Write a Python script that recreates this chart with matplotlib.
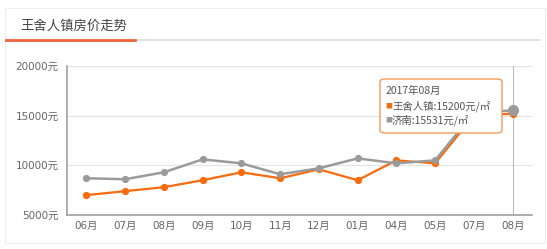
import matplotlib
matplotlib.use('Agg')
import matplotlib.pyplot as plt
from matplotlib.patches import FancyBboxPatch, Rectangle
from matplotlib.lines import Line2D

plt.rcParams['font.family'] = ['Noto Sans CJK SC', 'DejaVu Sans']

# === DATA ===
months = ['06月', '07月', '08月', '09月', '10月', '11月', '12月',
          '01月', '04月', '05月', '07月', '08月']
town = [7000, 7400, 7800, 8500, 9300, 8700, 9600, 8500, 10500, 10200, 15000, 15200]
city = [8700, 8600, 9300, 10600, 10200, 9100, 9700, 10700, 10200, 10500, 15300, 15531]
yticks = [5000, 10000, 15000, 20000]
title = '王舍人镇房价走势'
tip_date = '2017年08月'
hover = 11

c = {'town': '#f76b0c', 'city': '#9b9b9b', 'txt': '#666666',
     'grid': '#e3e3e3', 'axis': '#a0a0a0'}
tick_font = ['DejaVu Sans', 'Noto Sans CJK SC']

fig = plt.figure(figsize=(5.47, 2.49), dpi=100)
fig.patch.set_facecolor('white')

# card frame + header
fig.patches.append(Rectangle((5/547, 6/249), 540/547, 235/249, transform=fig.transFigure,
                             fill=False, edgecolor='#eeeeee', linewidth=0.8))
fig.text(20/547, 1 - 26/249, title, fontsize=9.6, color='#444444', va='center', ha='left')
fig.add_artist(Line2D([135/547, 540/547], [1 - 40.5/249] * 2, color='#dcdcdc', linewidth=1.2))
fig.add_artist(Line2D([6/547, 135/547], [1 - 40.5/249] * 2, color='#f0643c', linewidth=2.0))

ax = fig.add_axes([67/547, 34/249, 465/547, 149/249])
x = list(range(len(months)))

ax.plot(x, town, color=c['town'], linewidth=1.6, marker='o', markersize=4.2, zorder=3)
ax.plot(x, city, color=c['city'], linewidth=1.8, marker='o', markersize=4.2, zorder=4)
ax.plot([hover], [city[hover]], marker='o', markersize=7, color=c['city'], zorder=6)

ax.set_xlim(-0.5, len(months) - 0.5)
ax.set_ylim(5000, 20000)
ax.set_yticks(yticks)
ax.set_yticklabels([f'{v}元' for v in yticks], family=tick_font)
ax.set_xticks(x)
ax.set_xticklabels(months, family=tick_font)
ax.tick_params(axis='both', length=0, colors=c['txt'], labelsize=7.5)
ax.tick_params(axis='y', pad=6)
ax.tick_params(axis='x', pad=4)

ax.grid(axis='y', color=c['grid'], linewidth=0.8)
ax.set_axisbelow(True)
for s in ['top', 'right']:
    ax.spines[s].set_visible(False)
for s in ['left', 'bottom']:
    ax.spines[s].set_color(c['axis'])
    ax.spines[s].set_linewidth(1.2)

# hover crosshair
ax.axvline(hover, color='#bbbbbb', linewidth=0.8, zorder=2)

# tooltip
box = FancyBboxPatch((380/547, 1 - 133/249), 122/547, 54/249,
                     boxstyle='round,pad=0,rounding_size=0.01', transform=fig.transFigure,
                     facecolor='white', edgecolor='#f39b5a', linewidth=1.0, zorder=10)
fig.patches.append(box)
fig.text(386/547, 1 - 91/249, tip_date, fontsize=7.5, color='#555555', va='center', zorder=11)
fig.text(385/547, 1 - 106/249, '■', fontsize=5, color=c['town'], va='center', zorder=11)
fig.text(392/547, 1 - 106/249, f'王舍人镇:{town[hover]}元/㎡', fontsize=7.5, color='#555555',
         va='center', zorder=11)
fig.text(385/547, 1 - 120/249, '■', fontsize=5, color=c['city'], va='center', zorder=11)
fig.text(392/547, 1 - 120/249, f'济南:{city[hover]}元/㎡', fontsize=7.5, color='#555555',
         va='center', zorder=11)

plt.savefig('out.png', dpi=100, facecolor='white')
